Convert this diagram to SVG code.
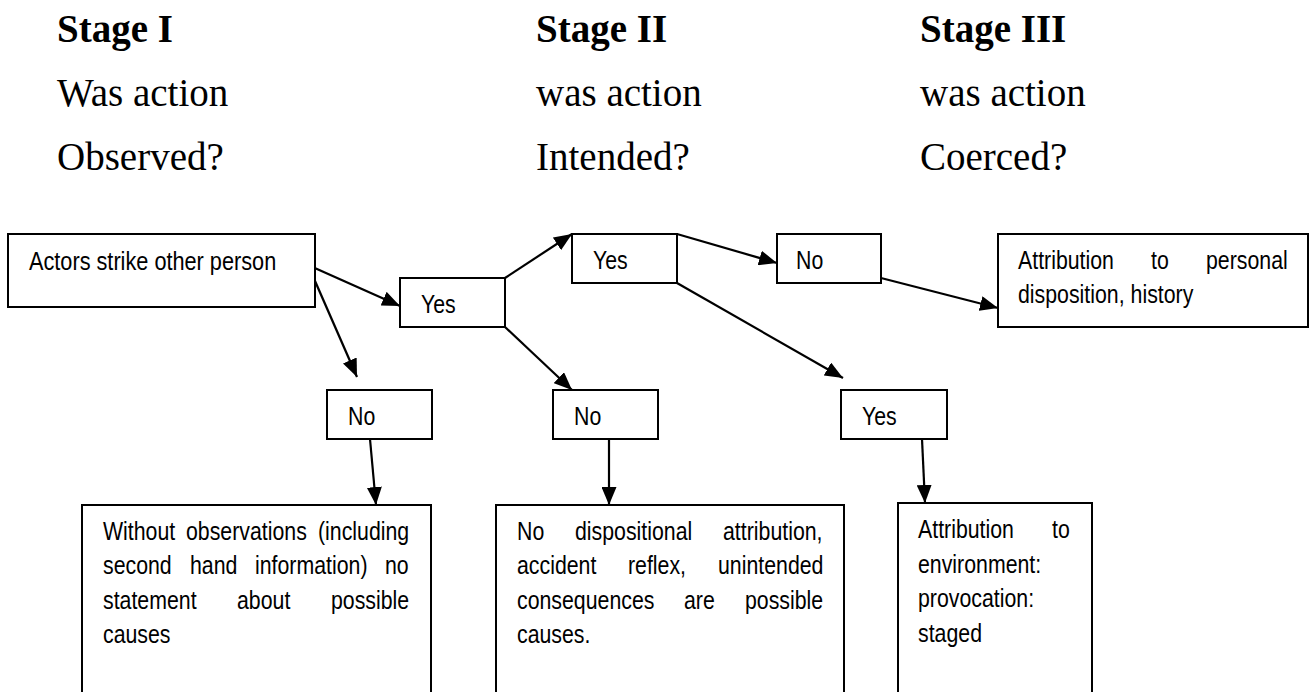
<svg xmlns="http://www.w3.org/2000/svg" width="1309" height="692" viewBox="0 0 1309 692">
<style>
.bg{fill:#fff}
.box{fill:#fff;stroke:#000;stroke-width:2}
.t{font-family:"Liberation Sans",Arial,sans-serif;font-size:26px;fill:#000}
.h{font-family:"Liberation Serif","Times New Roman",serif;font-size:39px;fill:#000}
.hb{font-weight:bold}
.c{stroke:#000;stroke-width:2.2;fill:none;marker-end:url(#ah)}
</style>
<defs>
<marker id="ah" markerUnits="userSpaceOnUse" markerWidth="19" markerHeight="15" refX="18" refY="7.5" orient="auto">
<path d="M0,0 L18,7.5 L0,15 Z" fill="#000"/>
</marker>
</defs>
<rect class="bg" x="0" y="0" width="1309" height="692"/>
<g id="headers">
<text class="h hb" x="57" y="42">Stage I</text>
<text class="h" x="57" y="106">Was action</text>
<text class="h" x="57" y="170">Observed?</text>
<text class="h hb" x="536" y="42">Stage II</text>
<text class="h" x="536" y="106">was action</text>
<text class="h" x="536" y="170">Intended?</text>
<text class="h hb" x="920" y="42">Stage III</text>
<text class="h" x="920" y="106">was action</text>
<text class="h" x="920" y="170">Coerced?</text>
</g>
<g id="connectors">
<line class="c" x1="308" y1="265" x2="400" y2="306"/>
<line class="c" x1="308" y1="265" x2="357" y2="377"/>
<line class="c" x1="505" y1="278" x2="572" y2="234"/>
<line class="c" x1="505" y1="327" x2="572" y2="390"/>
<line class="c" x1="677" y1="234" x2="777" y2="263"/>
<line class="c" x1="677" y1="283" x2="843" y2="378"/>
<line class="c" x1="881" y1="278" x2="998" y2="308"/>
<line class="c" x1="370" y1="439" x2="376" y2="505"/>
<line class="c" x1="609" y1="439" x2="609" y2="505"/>
<line class="c" x1="922" y1="439" x2="925" y2="503"/>
</g>
<g id="n-actors">
<rect class="box" x="8" y="234" width="307" height="73"/>
<text class="t" transform="translate(29 270) scale(0.835 1)">Actors strike other person</text>
</g>
<g id="n-yes1">
<rect class="box" x="400" y="278" width="105" height="49"/>
<text class="t" transform="translate(421 313) scale(0.82 1)">Yes</text>
</g>
<g id="n-yes2">
<rect class="box" x="572" y="234" width="105" height="49"/>
<text class="t" transform="translate(593 269) scale(0.82 1)">Yes</text>
</g>
<g id="n-no3">
<rect class="box" x="777" y="234" width="104" height="49"/>
<text class="t" transform="translate(796 269) scale(0.82 1)">No</text>
</g>
<g id="n-personal">
<rect class="box" x="998" y="234" width="310" height="93"/>
<text class="t" transform="translate(1018 269) scale(0.82 1)">Attribution</text>
<text class="t" transform="translate(1151 269) scale(0.82 1)">to</text>
<text class="t" transform="translate(1206 269) scale(0.82 1)">personal</text>
<text class="t" transform="translate(1018 303) scale(0.82 1)">disposition, history</text>
</g>
<g id="n-no1">
<rect class="box" x="327" y="390" width="105" height="49"/>
<text class="t" transform="translate(348 425) scale(0.82 1)">No</text>
</g>
<g id="n-no2">
<rect class="box" x="553" y="390" width="105" height="49"/>
<text class="t" transform="translate(574 425) scale(0.82 1)">No</text>
</g>
<g id="n-yes3">
<rect class="box" x="841" y="390" width="106" height="49"/>
<text class="t" transform="translate(862 425) scale(0.82 1)">Yes</text>
</g>
<g id="n-observe">
<rect class="box" x="82" y="505" width="349" height="200"/>
<text class="t" transform="translate(103 540) scale(0.82 1)">Without</text>
<text class="t" transform="translate(186 540) scale(0.82 1)">observations</text>
<text class="t" transform="translate(318 540) scale(0.82 1)">(including</text>
<text class="t" transform="translate(103 574) scale(0.82 1)">second</text>
<text class="t" transform="translate(190 574) scale(0.82 1)">hand</text>
<text class="t" transform="translate(255 574) scale(0.82 1)">information)</text>
<text class="t" transform="translate(385 574) scale(0.82 1)">no</text>
<text class="t" transform="translate(103 609) scale(0.82 1)">statement</text>
<text class="t" transform="translate(237 609) scale(0.82 1)">about</text>
<text class="t" transform="translate(331 609) scale(0.82 1)">possible</text>
<text class="t" transform="translate(103 643) scale(0.82 1)">causes</text>
</g>
<g id="n-intend">
<rect class="box" x="496" y="505" width="348" height="200"/>
<text class="t" transform="translate(517 540) scale(0.82 1)">No</text>
<text class="t" transform="translate(575 540) scale(0.82 1)">dispositional</text>
<text class="t" transform="translate(723 540) scale(0.82 1)">attribution,</text>
<text class="t" transform="translate(517 574) scale(0.82 1)">accident</text>
<text class="t" transform="translate(628 574) scale(0.82 1)">reflex,</text>
<text class="t" transform="translate(718 574) scale(0.82 1)">unintended</text>
<text class="t" transform="translate(517 609) scale(0.82 1)">consequences</text>
<text class="t" transform="translate(684 609) scale(0.82 1)">are</text>
<text class="t" transform="translate(745 609) scale(0.82 1)">possible</text>
<text class="t" transform="translate(517 643) scale(0.82 1)">causes.</text>
</g>
<g id="n-coerce">
<rect class="box" x="898" y="503" width="194" height="200"/>
<text class="t" transform="translate(918 538) scale(0.82 1)">Attribution</text>
<text class="t" transform="translate(1052 538) scale(0.82 1)">to</text>
<text class="t" transform="translate(918 573) scale(0.82 1)">environment:</text>
<text class="t" transform="translate(918 607) scale(0.82 1)">provocation:</text>
<text class="t" transform="translate(918 642) scale(0.82 1)">staged</text>
</g>
</svg>
